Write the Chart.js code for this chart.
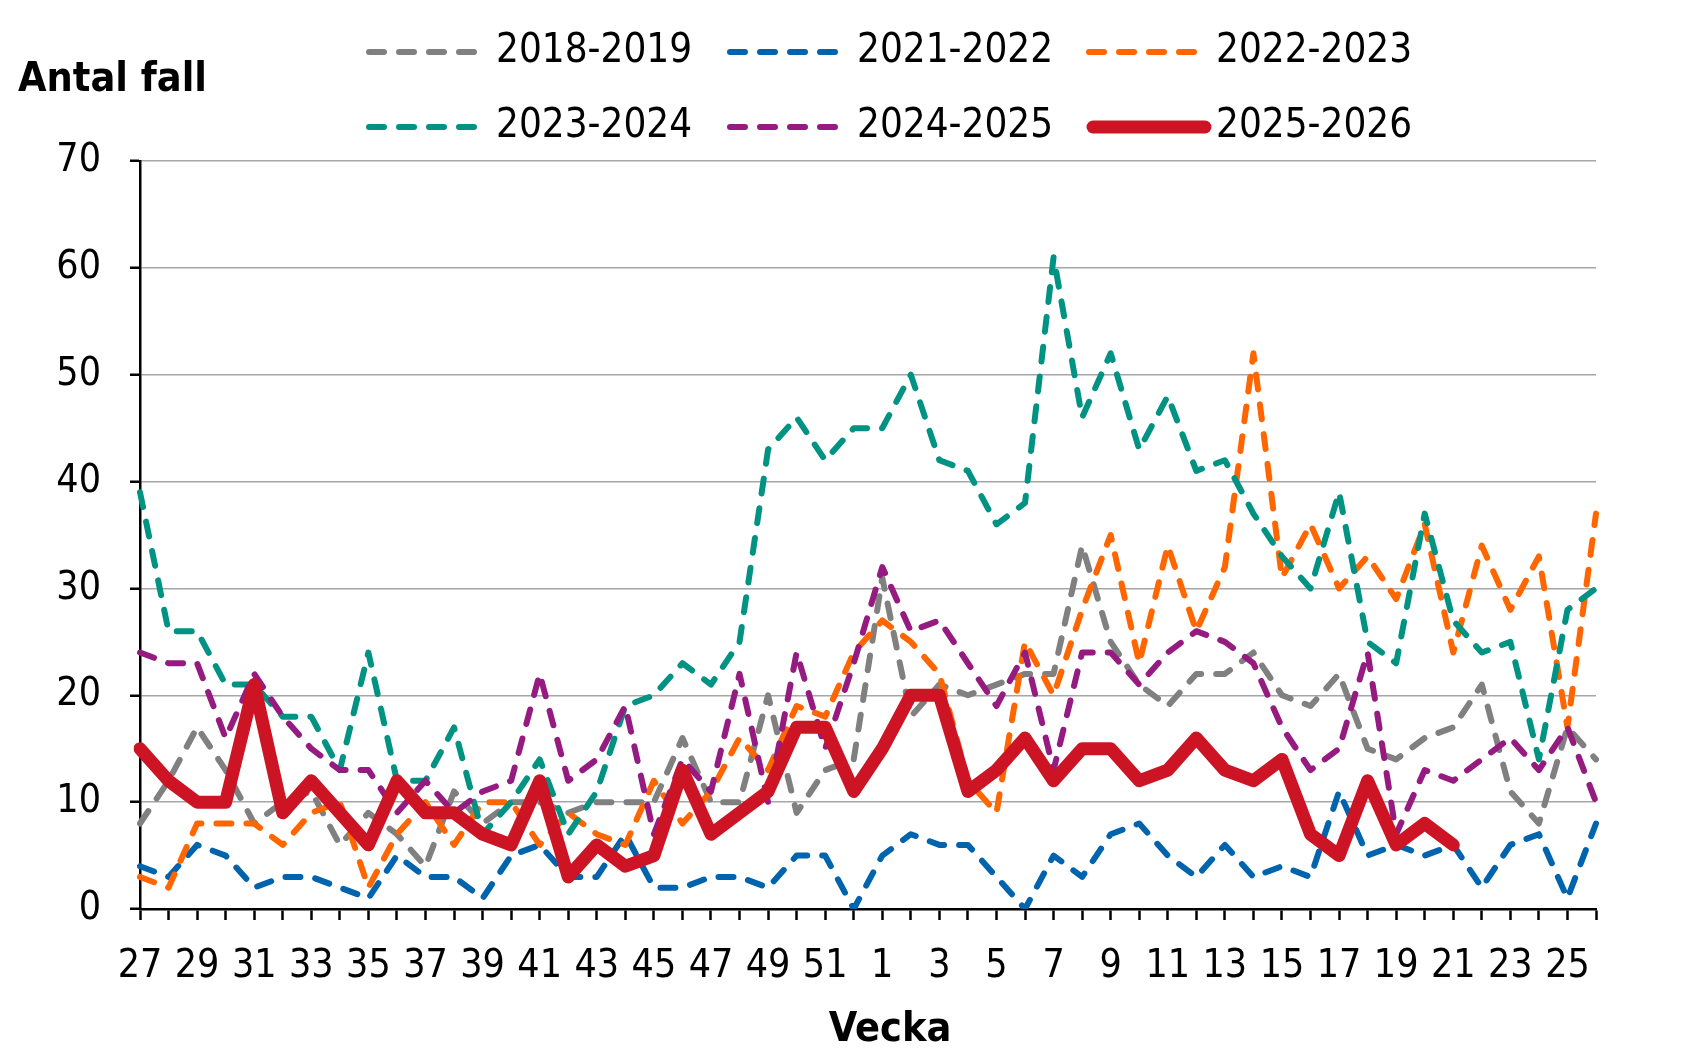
<!DOCTYPE html>
<html>
<head>
<meta charset="utf-8">
<script src="https://cdn.jsdelivr.net/npm/chart.js@4.4.0/dist/chart.umd.min.js"></script>
<style>
  html, body { margin: 0; padding: 0; background: #fff; }
  canvas { display: block; }
</style>
</head>
<body>
<canvas id="chart" width="1689" height="1058"></canvas>
<script>
// veckor 27..52, 1..26
const weeks = ["27","28","29","30","31","32","33","34","35","36","37","38","39","40",
  "41","42","43","44","45","46","47","48","49","50","51","52",
  "1","2","3","4","5","6","7","8","9","10","11","12","13","14",
  "15","16","17","18","19","20","21","22","23","24","25","26"];

const yTicks = [0, 10, 20, 30, 40, 50, 60, 70];

const s2018 = [8,12,17,13,8,10,11,6,9,7,4,11,8,10, 10,9,10,10,10,16,10,10,20,9,13,14,
  31,18,21,20,21,22,22,34,25,21,19,22,22,24, 20,19,22,15,14,16,17,21,11,8,17,14];
const s2021 = [4,3,6,5,2,3,3,2,1,5,3,3,1,5, 6,3,3,7,2,2,3,3,2,5,5,0,
  5,7,6,6,3,0,5,3,7,8,5,3,6,3, 4,3,11,5,6,5,6,2,6,7,1,8];
const s2022 = [3,2,8,8,8,6,9,10,2,7,10,6,10,10, 6,9,7,6,12,8,11,16,13,19,18,24,
  27,25,22,12,9,25,20,28,35,23,34,26,32,52, 31,36,30,33,29,36,24,34,28,33,17,37];
const s2023 = [39,26,26,21,21,18,18,13,24,12,12,17,7,10, 14,7,11,19,20,23,21,25,43,46,42,45,
  45,50,42,41,36,38,61,46,52,43,48,41,42,37, 33,30,39,25,23,37,27,24,25,14,28,30];
const s2024 = [24,23,23,16,22,18,15,13,13,9,12,9,11,12, 22,12,14,19,7,14,11,22,10,24,15,23,
  32,26,27,23,19,24,13,24,24,21,24,26,25,23, 17,13,15,24,7,13,12,14,16,13,17,10];
const s2025 = [15,12,10,10,21,9,12,9,6,12,9,9,7,6, 12,3,6,4,5,13,7,9,11,17,17,11,
  15,20,20,11,13,16,12,15,15,12,13,16,13,12, 14,7,5,12,6,8,6];

const FONT = '"DejaVu Sans Condensed", "DejaVu Sans", sans-serif';
const dash = [15, 15];

function dashed(label, data, color, order) {
  return {
    label: label, data: data, borderColor: color, backgroundColor: color,
    borderWidth: 6, borderDash: dash, borderCapStyle: "round",
    borderJoinStyle: "round", pointRadius: 0, tension: 0, order: order
  };
}

const datasets = [
  dashed("2018-2019", s2018, "#808080", 5),
  dashed("2021-2022", s2021, "#0063ae", 4),
  dashed("2022-2023", s2022, "#ff6600", 3),
  dashed("2023-2024", s2023, "#009383", 2),
  dashed("2024-2025", s2024, "#951b81", 1),
  {
    label: "2025-2026", data: s2025, borderColor: "#cc1424", backgroundColor: "#cc1424",
    borderWidth: 13, borderCapStyle: "round", borderJoinStyle: "round",
    pointRadius: 0, tension: 0, order: 0
  }
];

// legend + axis titles drawn by hand (Excel-style layout)
const extras = {
  id: "extras",
  afterDraw(chart) {
    const ctx = chart.ctx;
    const colX = [366, 727, 1086];
    const rowY = [52, 127];
    ctx.save();
    chart.data.datasets.forEach((ds, i) => {
      const x = colX[i % 3], y = rowY[Math.floor(i / 3)];
      ctx.beginPath();
      ctx.strokeStyle = ds.borderColor;
      ctx.lineWidth = ds.borderWidth;
      ctx.lineCap = ds.borderCapStyle;
      ctx.setLineDash(ds.borderDash || []);
      if (ds.borderDash) {
        ctx.moveTo(x + 3, y); ctx.lineTo(x + 113, y);
      } else {
        ctx.moveTo(x + 7, y); ctx.lineTo(x + 119, y);
      }
      ctx.stroke();
      ctx.setLineDash([]);
      ctx.fillStyle = "#000";
      ctx.font = "40px " + FONT;
      ctx.textAlign = "left";
      ctx.textBaseline = "middle";
      ctx.fillText(ds.label, x + 130, y);
    });
    ctx.font = "bold 41px " + FONT;
    ctx.textBaseline = "middle";
    ctx.textAlign = "left";
    ctx.fillText("Antal fall", 18, 80);
    ctx.textAlign = "center";
    ctx.fillText("Vecka", 890, 1030);
    ctx.restore();
  }
};

const ctx = document.getElementById("chart").getContext("2d");
new Chart(ctx, {
  type: "line",
  data: { labels: weeks, datasets: datasets },
  options: {
    responsive: false,
    animation: false,
    devicePixelRatio: 1,
    layout: { padding: { top: 161, right: 93, left: 0, bottom: 0 } },
    plugins: { legend: { display: false }, tooltip: { enabled: false } },
    scales: {
      x: {
        afterFit(scale) { scale.height = 149; },
        grid: { drawOnChartArea: false, drawTicks: true, tickLength: 11, tickColor: "#000", tickWidth: 2.5 },
        border: { color: "#000", width: 2.5 },
        ticks: {
          autoSkip: false, maxRotation: 0, padding: 23, color: "#000",
          font: { family: FONT, size: 39 },
          callback: function (v, i) { return i % 2 === 0 ? this.getLabelForValue(v) : ""; }
        }
      },
      y: {
        min: yTicks[0], max: yTicks[yTicks.length - 1],
        afterFit(scale) { scale.width = 140; },
        afterBuildTicks(scale) { scale.ticks = yTicks.map(v => ({ value: v })); },
        grid: { color: "#a6a6a6", lineWidth: 1.5, tickLength: 10, tickColor: "#000", tickWidth: 2.5 },
        border: { color: "#000", width: 2.5 },
        ticks: { padding: 29, color: "#000", font: { family: FONT, size: 39 } }
      }
    }
  },
  plugins: [extras]
});
</script>
</body>
</html>
